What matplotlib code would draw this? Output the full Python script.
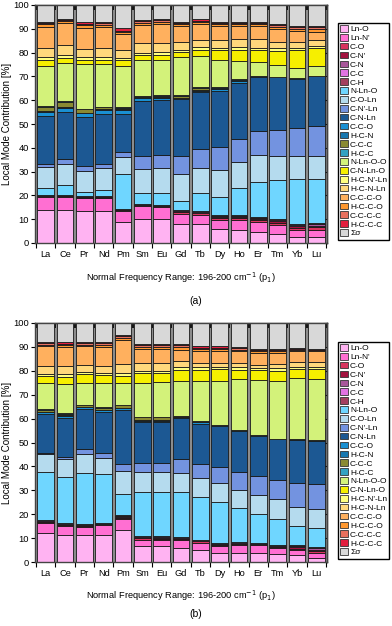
import matplotlib
matplotlib.use("Agg")
import matplotlib.pyplot as plt
import numpy as np
from matplotlib.patches import Patch

plt.rcParams['font.family'] = ['Liberation Sans', 'DejaVu Sans']

elements = ["La", "Ce", "Pr", "Nd", "Pm", "Sm", "Eu", "Gd", "Tb", "Dy", "Ho", "Er", "Tm", "Yb", "Lu"]
components = ["Ln-O", "Ln-N'", "C-O", "C-N'", "C-N", "C-C", "C-H", "N-Ln-O", "C-O-Ln", "C-N'-Ln",
              "C-N-Ln", "C-C-O", "H-C-N", "C-C-C", "H-C-C", "N-Ln-O-O", "C-N-Ln-O", "H-C-N'-Ln",
              "H-C-N-Ln", "C-C-C-O", "H-C-C-O", "C-C-C-C", "H-C-C-C", "Σσ"]
colors = ["#FFB3F2", "#FF6FD2", "#D8345F", "#A3123F", "#A8579A", "#E273E2", "#A3405F", "#6FD6FF",
          "#B5DBEE", "#7393E0", "#1C5893", "#1A90D2", "#1878B0", "#8A8A32", "#33A2C2", "#D3F27A",
          "#F6EF00", "#FFFF80", "#FFD87C", "#FFB05E", "#FF9830", "#E8705E", "#E21E3E", "#D8D8D8"]

# ---- panel (a) ----
a_LnO    = [14.0, 14.0, 13.5, 13.4, 8.8, 10.2, 10.0, 7.9, 7.9, 6.0, 5.6, 4.6, 3.9, 2.5, 2.5]
a_LnN    = [5.4, 5.4, 5.2, 5.3, 4.7, 5.4, 5.1, 4.4, 3.9, 3.5, 3.9, 4.2, 3.8, 3.1, 3.1]
a_CO     = [0.3, 0.4, 0.4, 0.4, 0.4, 0.3, 0.4, 0.6, 0.6, 0.8, 0.8, 0.8, 0.9, 0.9, 1.0]
a_CNp    = [0.2, 0.2, 0.2, 0.2, 0.2, 0.2, 0.2, 0.4, 0.4, 0.5, 0.5, 0.5, 0.6, 0.6, 0.7]
a_CN     = [0.1, 0.1, 0.1, 0.1, 0.1, 0.1, 0.1, 0.3, 0.3, 0.4, 0.4, 0.4, 0.5, 0.5, 0.5]
a_CC     = [0.1, 0.1, 0.1, 0.1, 0.1, 0.1, 0.1, 0.2, 0.2, 0.2, 0.2, 0.2, 0.3, 0.3, 0.3]
a_CH     = [0.0, 0.1, 0.1, 0.1, 0.1, 0.0, 0.1, 0.2, 0.2, 0.2, 0.2, 0.2, 0.2, 0.2, 0.3]
a_NLnO   = [3.0, 4.0, 1.9, 2.8, 14.8, 4.7, 4.8, 3.5, 7.3, 7.8, 11.7, 14.8, 16.2, 18.7, 18.4]
a_COLn   = [8.9, 8.8, 8.8, 9.2, 7.0, 10.3, 10.9, 11.3, 10.8, 11.2, 10.8, 11.2, 10.1, 9.8, 9.8]
a_CNpLn  = [1.4, 2.4, 2.1, 1.8, 2.1, 5.2, 5.2, 7.7, 7.8, 9.8, 9.8, 10.1, 10.9, 11.9, 12.5]
a_CNLn   = [20.0, 19.6, 20.6, 20.6, 16.1, 23.2, 23.1, 23.8, 23.9, 23.6, 23.4, 22.8, 22.2, 20.6, 21.0]
a_CCO    = [1.7, 1.8, 1.5, 1.8, 1.4, 1.4, 1.1, 0.5, 0.6, 0.7, 0.8, 0.2, 0.1, 0.2, 0.1]
a_HCN    = [0.3, 0.3, 0.3, 0.3, 0.3, 0.3, 0.3, 0.2, 0.3, 0.4, 0.4, 0.1, 0.1, 0.1, 0.1]
a_CCC    = [1.8, 2.1, 1.5, 0.9, 0.7, 0.3, 0.5, 0.9, 1.0, 0.2, 0.1, 0.0, 0.0, 0.0, 0.0]
a_HCC    = [0.3, 0.3, 0.2, 0.2, 0.2, 0.2, 0.2, 0.2, 0.2, 0.1, 0.1, 0.0, 0.0, 0.0, 0.0]
a_NLnOO  = [17.0, 15.9, 18.7, 18.0, 17.5, 15.0, 15.0, 15.9, 13.1, 11.7, 7.7, 6.1, 5.0, 4.0, 4.0]
a_CNLnO  = [2.4, 2.1, 1.9, 1.7, 2.4, 2.1, 1.9, 2.1, 2.6, 4.0, 4.9, 4.9, 6.0, 7.7, 7.5]
a_HCNpLn = [1.1, 1.4, 0.9, 1.1, 0.9, 0.9, 1.1, 1.0, 1.1, 0.9, 1.2, 0.9, 1.0, 0.9, 1.1]
a_HCNLn  = [3.8, 4.2, 3.4, 3.8, 3.3, 4.0, 4.1, 3.2, 3.1, 3.3, 3.1, 3.7, 2.8, 2.3, 2.4]
a_CCCO   = [9.1, 9.1, 9.1, 9.1, 6.6, 7.7, 7.8, 6.9, 6.6, 5.9, 5.6, 5.6, 5.2, 4.8, 3.5]
a_HCCO   = [1.0, 0.8, 1.0, 0.9, 0.8, 0.9, 0.9, 0.8, 0.9, 0.8, 0.8, 0.8, 1.0, 1.0, 1.0]
a_CCCC   = [0.6, 0.5, 0.7, 0.6, 0.6, 0.6, 0.6, 0.5, 0.6, 0.5, 0.5, 0.5, 0.7, 0.6, 0.8]
a_HCCC   = [0.5, 0.4, 0.5, 0.4, 1.1, 0.6, 0.5, 0.5, 0.7, 0.5, 0.5, 0.4, 0.5, 0.5, 0.6]
a_Sigma  = [7.0, 6.0, 7.3, 7.2, 9.8, 6.3, 6.0, 7.0, 5.9, 7.0, 7.0, 7.0, 8.0, 8.8, 8.8]

# ---- panel (b) ----
b_LnO    = [12.2, 11.5, 11.2, 11.2, 13.3, 6.6, 6.6, 6.0, 5.2, 3.9, 3.9, 3.9, 3.2, 2.8, 1.8]
b_LnN    = [4.2, 3.6, 3.5, 4.2, 4.6, 2.8, 2.5, 3.1, 2.9, 2.7, 3.1, 3.1, 2.7, 2.1, 2.0]
b_CO     = [0.4, 0.5, 0.5, 0.4, 0.6, 0.5, 0.6, 0.5, 0.5, 0.5, 0.5, 0.4, 0.5, 0.7, 0.8]
b_CNp    = [0.3, 0.3, 0.4, 0.3, 0.4, 0.4, 0.5, 0.4, 0.3, 0.4, 0.4, 0.3, 0.4, 0.5, 0.6]
b_CN     = [0.2, 0.2, 0.2, 0.2, 0.3, 0.3, 0.3, 0.2, 0.2, 0.3, 0.2, 0.2, 0.2, 0.4, 0.5]
b_CC     = [0.1, 0.2, 0.2, 0.1, 0.2, 0.2, 0.2, 0.2, 0.2, 0.2, 0.2, 0.1, 0.2, 0.3, 0.3]
b_CH     = [0.1, 0.1, 0.1, 0.1, 0.2, 0.1, 0.2, 0.1, 0.1, 0.1, 0.1, 0.1, 0.1, 0.2, 0.3]
b_NLnO   = [20.0, 19.3, 21.0, 20.3, 8.8, 18.5, 18.5, 18.9, 17.6, 16.8, 14.0, 11.9, 10.9, 8.0, 8.0]
b_COLn   = [7.7, 7.2, 8.1, 6.6, 9.8, 8.1, 8.1, 7.9, 8.0, 8.0, 7.9, 8.0, 8.0, 8.1, 7.8]
b_CNpLn  = [0.5, 1.2, 1.9, 2.1, 2.8, 4.0, 4.0, 5.6, 6.0, 7.0, 7.2, 8.1, 8.3, 10.0, 10.5]
b_CNLn   = [16.3, 16.0, 17.0, 17.4, 22.5, 17.2, 17.2, 17.2, 16.8, 17.0, 17.5, 16.8, 16.8, 17.9, 18.0]
b_CCO    = [0.7, 1.0, 0.7, 0.5, 0.8, 0.5, 0.5, 0.5, 0.7, 0.3, 0.2, 0.2, 0.2, 0.2, 0.2]
b_HCN    = [0.2, 0.2, 0.2, 0.2, 0.2, 0.2, 0.2, 0.2, 0.2, 0.2, 0.1, 0.1, 0.1, 0.1, 0.1]
b_CCC    = [0.8, 0.7, 0.5, 1.0, 1.0, 1.2, 1.2, 0.1, 0.3, 0.0, 0.0, 0.0, 0.0, 0.0, 0.0]
b_HCC    = [0.2, 0.2, 0.2, 0.2, 0.2, 0.2, 0.2, 0.2, 0.2, 0.0, 0.0, 0.0, 0.0, 0.0, 0.0]
b_NLnOO  = [10.9, 12.3, 9.4, 10.0, 9.1, 14.3, 14.4, 14.7, 16.7, 18.5, 21.2, 23.0, 24.3, 25.6, 25.6]
b_CNLnO  = [3.1, 3.1, 3.5, 3.5, 3.1, 3.9, 3.8, 4.6, 4.5, 4.8, 3.9, 4.2, 4.2, 3.8, 4.2]
b_HCNpLn = [0.7, 1.0, 0.7, 0.7, 1.1, 1.1, 1.1, 1.1, 1.1, 0.8, 1.1, 0.7, 1.0, 0.8, 0.8]
b_HCNLn  = [3.5, 3.2, 3.2, 3.1, 3.9, 3.1, 3.1, 2.8, 1.7, 1.7, 1.7, 1.4, 1.8, 2.0, 2.0]
b_CCCO   = [8.1, 8.0, 7.7, 7.7, 9.8, 5.9, 5.9, 4.5, 4.9, 4.9, 4.9, 4.9, 4.5, 4.6, 4.6]
b_HCCO   = [0.8, 0.9, 0.8, 1.0, 1.0, 1.0, 1.0, 1.0, 0.9, 0.9, 0.8, 0.8, 0.8, 0.6, 0.5]
b_CCCC   = [0.5, 0.7, 0.5, 0.7, 0.7, 0.6, 0.6, 0.8, 0.6, 0.6, 0.5, 0.5, 0.5, 0.5, 0.3]
b_HCCC   = [0.5, 0.5, 0.5, 0.5, 0.7, 0.6, 0.6, 0.6, 0.6, 0.6, 0.5, 0.5, 0.4, 0.3, 0.2]
b_Sigma  = [8.0, 8.1, 8.0, 8.0, 4.9, 8.7, 8.7, 8.8, 9.8, 9.8, 10.1, 10.8, 10.9, 10.5, 10.9]

panel_a = [a_LnO, a_LnN, a_CO, a_CNp, a_CN, a_CC, a_CH, a_NLnO, a_COLn, a_CNpLn, a_CNLn, a_CCO,
           a_HCN, a_CCC, a_HCC, a_NLnOO, a_CNLnO, a_HCNpLn, a_HCNLn, a_CCCO, a_HCCO, a_CCCC,
           a_HCCC, a_Sigma]
panel_b = [b_LnO, b_LnN, b_CO, b_CNp, b_CN, b_CC, b_CH, b_NLnO, b_COLn, b_CNpLn, b_CNLn, b_CCO,
           b_HCN, b_CCC, b_HCC, b_NLnOO, b_CNLnO, b_HCNpLn, b_HCNLn, b_CCCO, b_HCCO, b_CCCC,
           b_HCCC, b_Sigma]

W, H = 392, 626
fig = plt.figure(figsize=(W / 100, H / 100), dpi=100)
LEFT_PX, RIGHT_PX = 35, 327

def draw(panel, top_px, bot_px, legend_top_px, xlabel_y_px, tag, tag_y_px):
    ax = fig.add_axes([LEFT_PX / W, 1 - bot_px / H, (RIGHT_PX - LEFT_PX) / W, (bot_px - top_px) / H])
    ax.set_facecolor("#8c8c8c")
    x = np.arange(len(elements))
    bottom = np.zeros(len(elements))
    for vals, col in zip(panel, colors):
        v = np.array(vals)
        ax.bar(x, v, bottom=bottom, width=0.86, color=col, edgecolor="#1a1a1a", linewidth=0.6, zorder=2)
        bottom += v
    ax.set_xlim(-0.55, 14.55)
    ax.set_ylim(0, 100)
    ax.set_yticks(np.arange(0, 101, 10))
    ax.tick_params(axis="y", labelsize=6.7, length=3, width=0.8, direction="out", pad=1.5)
    bounds = np.arange(-0.5, 15, 1.0)
    ax.set_xticks(bounds)
    ax.set_xticklabels([])
    ax.tick_params(axis="x", which="major", length=3.5, width=0.8, direction="out")
    ax.set_xticks(x, minor=True)
    ax.set_xticklabels(elements, minor=True)
    ax.tick_params(axis="x", which="minor", length=0, labelsize=6.7, pad=5)
    sec = ax.secondary_yaxis("right")
    sec.set_yticks(np.arange(0, 101, 10))
    sec.set_yticklabels([])
    sec.tick_params(direction="in", length=3, width=0.8)
    top = ax.secondary_xaxis("top")
    top.set_xticks(bounds)
    top.set_xticklabels([])
    top.tick_params(direction="in", length=3.5, width=1.2)
    for s in list(ax.spines.values()):
        s.set_linewidth(1.0)
        s.set_color("#444444")
    for s in list(sec.spines.values()) + list(top.spines.values()):
        s.set_linewidth(1.0)
        s.set_color("#444444")
    ax.set_ylabel("Local Mode Contribution [%]", fontsize=7)
    ax.yaxis.set_label_coords((12 - LEFT_PX) / (RIGHT_PX - LEFT_PX), 0.5)
    fig.text((LEFT_PX + RIGHT_PX) / 2 / W, 1 - xlabel_y_px / H,
             "Normal Frequency Range: 196-200 cm$^{-1}$ (p$_1$)",
             ha="center", va="center", fontsize=6.7)
    handles = [Patch(facecolor=c, edgecolor="#333333", linewidth=0.6) for c in colors]
    fig.legend(handles, components, loc="upper left",
               bbox_to_anchor=(338 / W, 1 - legend_top_px / H), bbox_transform=fig.transFigure,
               fontsize=6, frameon=True, fancybox=False, edgecolor="black", framealpha=1,
               labelspacing=0.08, handlelength=0.9, handleheight=0.85, handletextpad=0.3,
               borderpad=0.25, borderaxespad=0)
    fig.text(0.5, 1 - tag_y_px / H, tag, ha="center", va="center", fontsize=7.5)
    return ax

draw(panel_a, 5, 243, 23, 278, "(a)", 301)
draw(panel_b, 323, 562, 342, 596, "(b)", 614)

fig.savefig("out.png", dpi=100)
